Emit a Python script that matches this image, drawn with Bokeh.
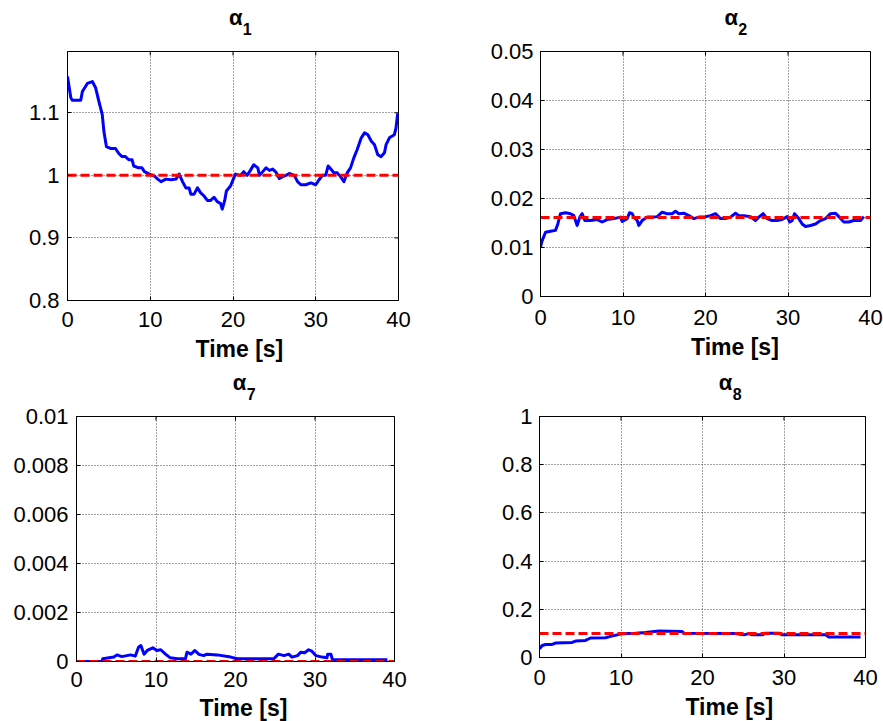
import math
from bokeh.plotting import figure
from bokeh.models import Range1d, FixedTicker, CustomJSTickFormatter
from bokeh.core.properties import value
from bokeh.layouts import row, column
from bokeh.embed import file_html
from bokeh.resources import INLINE

FONT = "Liberation Sans"

time_ticks = [0, 10, 20, 30, 40]
x_label = "Time [s]"
title_symbol = "α"

# ---- alpha_1 ----
t1 = [0.0, 0.4, 0.6, 1.6, 1.8, 2.4, 3.0, 3.4, 3.8, 4.2,
      4.4, 4.7, 5.2, 5.8, 6.2, 6.6, 7.0, 7.4, 7.8, 8.0,
      8.6, 9.0, 9.3, 9.9, 10.5, 10.9, 11.3, 11.9, 12.5, 13.1,
      13.5, 13.9, 14.3, 14.7, 14.9, 15.3, 15.7, 16.1, 16.5, 16.9,
      17.3, 17.7, 18.1, 18.5, 18.7, 19.0, 19.2, 19.7, 20.1, 20.3,
      20.9, 21.3, 21.7, 22.1, 22.5, 23.0, 23.2, 23.6, 24.0, 24.4,
      24.8, 25.2, 25.6, 26.0, 26.4, 26.8, 27.4, 27.8, 28.2, 28.8,
      29.4, 30.0, 30.4, 30.8, 31.2, 31.5, 31.9, 32.2, 32.6, 33.0,
      33.4, 33.8, 34.2, 34.6, 35.0, 35.5, 35.9, 36.3, 36.7, 37.1,
      37.5, 37.9, 38.3, 38.5, 38.9, 39.5, 39.7, 39.9]
a1 = [1.158, 1.124, 1.120, 1.120, 1.134, 1.147, 1.150, 1.140, 1.118, 1.097,
      1.070, 1.046, 1.043, 1.043, 1.035, 1.030, 1.030, 1.025, 1.025, 1.015,
      1.012, 1.012, 1.006, 1.002, 0.999, 0.994, 0.990, 0.994, 0.993, 0.994,
      1.002, 0.990, 0.980, 0.980, 0.970, 0.970, 0.980, 0.972, 0.967, 0.960,
      0.960, 0.965, 0.958, 0.955, 0.946, 0.960, 0.975, 0.983, 0.996, 1.002,
      1.000, 1.006, 1.000, 1.008, 1.017, 1.012, 1.000, 1.006, 1.012, 1.008,
      1.010, 1.005, 0.995, 0.998, 1.000, 1.003, 1.000, 0.990, 0.985, 0.985,
      0.988, 0.985, 0.993, 1.000, 1.000, 1.015, 1.009, 1.004, 1.004, 0.998,
      0.990, 1.004, 1.012, 1.028, 1.041, 1.060, 1.068, 1.065, 1.055, 1.049,
      1.033, 1.030, 1.036, 1.049, 1.060, 1.065, 1.076, 1.099]
ref1 = 1.0
yt1 = [0.8, 0.9, 1.0, 1.1]
ylim1 = (0.8, 1.198)

# ---- alpha_2 ----
t2 = [0.0, 0.20, 0.61, 1.21, 1.82, 2.10, 2.42, 3.03, 3.64, 4.04,
      4.24, 4.44, 4.77, 5.05, 5.37, 6.06, 6.87, 7.47, 8.08, 8.89,
      9.70, 9.90, 10.51, 10.79, 11.11, 11.31, 11.72, 11.92, 12.32, 12.93,
      13.74, 14.14, 14.75, 15.35, 15.96, 16.36, 16.77, 17.37, 17.98, 18.59,
      19.19, 19.80, 20.61, 21.21, 21.82, 22.42, 23.03, 23.64, 24.04, 24.65,
      25.45, 26.06, 26.46, 26.99, 27.47, 28.08, 28.69, 29.29, 29.90, 30.22,
      30.51, 30.79, 31.31, 31.72, 32.12, 32.73, 33.33, 33.94, 34.55, 35.15,
      35.76, 36.16, 36.77, 37.37, 37.98, 38.79, 39.19]
a2 = [0.0101, 0.0114, 0.0131, 0.0133, 0.0135, 0.0148, 0.0169, 0.0171, 0.0169, 0.0165,
      0.0155, 0.0145, 0.0162, 0.0169, 0.0155, 0.0155, 0.0157, 0.0152, 0.0157, 0.0159,
      0.0162, 0.0153, 0.0159, 0.0171, 0.0169, 0.0162, 0.0155, 0.0145, 0.0155, 0.0162,
      0.0162, 0.0163, 0.0172, 0.0169, 0.0169, 0.0174, 0.0169, 0.0170, 0.0165, 0.0159,
      0.0162, 0.0162, 0.0165, 0.0169, 0.0159, 0.0159, 0.0162, 0.0170, 0.0165, 0.0165,
      0.0163, 0.0155, 0.0162, 0.0169, 0.0159, 0.0155, 0.0155, 0.0157, 0.0163, 0.0152,
      0.0155, 0.0169, 0.0159, 0.0148, 0.0143, 0.0145, 0.0148, 0.0155, 0.0159, 0.0169,
      0.0170, 0.0163, 0.0152, 0.0152, 0.0155, 0.0155, 0.0163]
ref2 = 0.0161
yt2 = [0, 0.01, 0.02, 0.03, 0.04, 0.05]
ylim2 = (0, 0.05)

# ---- alpha_7 ----
t7 = [0.0, 3.2, 3.3, 4.7, 5.1, 5.7, 6.8, 7.4, 7.8, 8.1,
      8.5, 8.9, 9.6, 10.1, 10.6, 11.2, 11.8, 12.7, 13.7, 13.9,
      14.4, 14.9, 15.4, 16.0, 16.4, 17.7, 19.4, 20.2, 24.8, 25.4,
      26.1, 26.7, 27.1, 27.8, 28.2, 28.7, 29.2, 29.6, 30.1, 30.9,
      31.5, 31.6, 32.0, 32.2, 39.1]
a7 = [0.0, 0.0, 0.00011, 0.00018, 0.00027, 0.00020, 0.00027, 0.00022, 0.00058, 0.00065,
      0.00030, 0.00045, 0.00056, 0.00045, 0.00048, 0.00030, 0.00015, 0.00011, 0.00011, 0.00038,
      0.00030, 0.00045, 0.00029, 0.00024, 0.00030, 0.00027, 0.00018, 0.00011, 0.00011, 0.00030,
      0.00024, 0.00030, 0.00018, 0.00024, 0.00038, 0.00036, 0.00048, 0.00042, 0.00024, 0.00018,
      0.00015, 0.00030, 0.00030, 0.00007, 0.00007]
ref7 = 0.0
yt7 = [0, 0.002, 0.004, 0.006, 0.008, 0.01]
ylim7 = (0, 0.01)

# ---- alpha_8 ----
t8 = [0.0, 0.33, 0.74, 1.55, 1.96, 4.0, 4.42, 5.64, 6.26, 8.1,
      8.71, 9.53, 10.14, 11.78, 13.0, 14.64, 17.5, 17.71, 24.05, 25.07,
      25.69, 26.09, 27.32, 27.73, 29.37, 29.78, 35.09, 35.5, 39.39]
a8 = [0.036, 0.050, 0.054, 0.054, 0.060, 0.0625, 0.068, 0.071, 0.081, 0.082,
      0.0875, 0.094, 0.099, 0.101, 0.104, 0.110, 0.108, 0.101, 0.100, 0.094,
      0.099, 0.094, 0.094, 0.101, 0.101, 0.094, 0.094, 0.085, 0.085]
ref8 = 0.1
yt8 = [0, 0.2, 0.4, 0.6, 0.8, 1]
ylim8 = (0, 1)

# measured shift of text glyph baselines (px) for the sizes used
BASE_FIX_BIG = 8
BASE_FIX_SMALL = 6


def strip(width, height):
    s = figure(width=width, height=height, output_backend="svg", toolbar_location=None,
               x_range=Range1d(0, width), y_range=Range1d(0, height), min_border=0,
               x_axis_location=None, y_axis_location=None, title=None)
    s.xgrid.visible = False
    s.ygrid.visible = False
    s.outline_line_color = None
    s.background_fill_color = "white"
    s.border_fill_color = "white"
    return s


def make_panel(t, a, ref, sub, yticks, ylim, width, total_h, left, right, above, frame_h,
               bottom, xstand, ystand, label_base):
    pad_top = 14
    fw = width - left - right
    title_h = above - pad_top
    label_h = total_h - above - frame_h - bottom
    cx = left + fw / 2
    # title strip
    ts = strip(width, title_h)
    ts.text(x=[cx], y=[26 - pad_top + BASE_FIX_BIG], text=[title_symbol],
            text_font=value(FONT), text_font_size="22px", text_font_style="bold",
            text_color="black", text_align="right", text_baseline="alphabetic")
    ts.text(x=[cx + 0.5], y=[17 - pad_top + BASE_FIX_SMALL], text=[sub],
            text_font=value(FONT), text_font_size="16px", text_font_style="bold",
            text_color="black", text_align="left", text_baseline="alphabetic")

    p = figure(width=width, height=pad_top + frame_h + bottom, output_backend="svg",
               toolbar_location=None, title=None,
               x_range=Range1d(time_ticks[0], time_ticks[-1]), y_range=Range1d(*ylim),
               min_border_left=left, min_border_right=right,
               min_border_top=pad_top, min_border_bottom=bottom)
    p.background_fill_color = "white"
    p.border_fill_color = "white"
    p.outline_line_color = "black"
    p.outline_line_width = 1
    p.outline_line_alpha = 1

    fmt = CustomJSTickFormatter(code="return (Math.round(tick*1e6)/1e6).toString();")
    xa = p.xaxis[0]
    xa.ticker = FixedTicker(ticks=time_ticks)
    ya = p.yaxis[0]
    ya.ticker = FixedTicker(ticks=yticks)
    ya.formatter = fmt
    for ax in (xa, ya):
        ax.axis_line_color = "black"
        ax.major_tick_line_color = "black"
        ax.major_tick_in = 4
        ax.major_tick_out = 0
        ax.minor_tick_line_color = None
        ax.major_label_text_font = FONT
        ax.major_label_text_font_size = "22px"
        ax.major_label_text_color = "black"
    xa.major_label_standoff = xstand
    ya.major_label_standoff = ystand

    for g in (p.xgrid[0], p.ygrid[0]):
        g.grid_line_color = "#444444"
        g.grid_line_dash = "1 2"
        g.grid_line_width = 1
    p.xgrid[0].ticker = FixedTicker(ticks=time_ticks)
    p.ygrid[0].ticker = FixedTicker(ticks=yticks)

    # mirrored tick marks on the top and right edges (box on)
    p.scatter(time_ticks, [ylim[1]] * len(time_ticks), marker="dash", angle=math.pi / 2,
              size=8, line_color="black", line_width=1)
    p.scatter([time_ticks[-1]] * len(yticks), yticks, marker="dash",
              size=8, line_color="black", line_width=1)

    p.line(t, a, line_color="#0000FF", line_width=3, line_join="round")
    p.line([time_ticks[0], time_ticks[-1]], [ref, ref], line_color="#FF0000",
           line_width=3, line_dash="9 4")

    # x-axis label strip
    ls = strip(width, label_h)
    ls.text(x=[cx - 4], y=[label_h - (label_base - bottom) + BASE_FIX_BIG], text=[x_label],
            text_font=value(FONT), text_font_size="23px", text_font_style="bold",
            text_color="black", text_align="center", text_baseline="alphabetic")
    return column(ts, p, ls, spacing=0)


c1 = make_panel(t1, a1, ref1, "1", yt1, ylim1, 440, 370, 67, 42, 51, 249, 35, 11, 8, 56.5)
c2 = make_panel(t2, a2, ref2, "2", yt2, ylim2, 443, 370, 100, 13, 51, 245, 37, 13, 7, 58.5)
c3 = make_panel(t7, a7, ref7, "7", yt7, ylim7, 440, 351, 76, 46, 46, 245, 34, 10, 8, 54.8)
c4 = make_panel(t8, a8, ref8, "8", yt8, ylim8, 443, 351, 99, 18, 46, 241, 36, 12, 7, 57.5)

layout = column(row(c1, c2, spacing=0), row(c3, c4, spacing=0), spacing=0)
open("out.html", "w").write(file_html(layout, INLINE))
